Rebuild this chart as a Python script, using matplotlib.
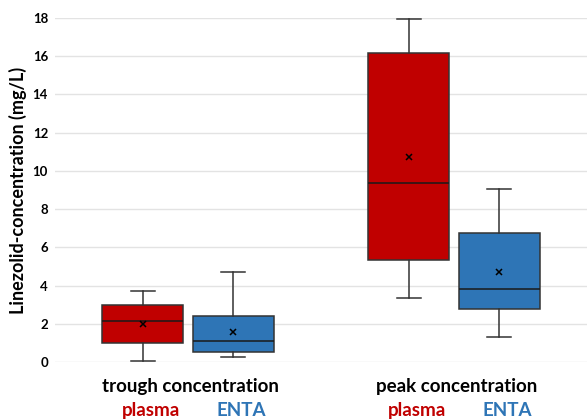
import matplotlib
matplotlib.use("Agg")
import matplotlib.pyplot as plt
from matplotlib.transforms import blended_transform_factory

plt.rcParams['font.family'] = ['Lato', 'DejaVu Sans']

groups = ["trough concentration", "peak concentration"]
series = ["plasma", "ENTA"]
colors = ["#C00000", "#2E75B6"]

# per group: [plasma, ENTA]
whislo = [[0.05, 0.27], [3.35, 1.31]]
q1 = [[0.99, 0.52], [5.34, 2.77]]
med = [[2.15, 1.10], [9.37, 3.82]]
q3 = [[2.98, 2.41], [16.17, 6.75]]
whishi = [[3.72, 4.70], [17.95, 9.05]]
means = [[2.00, 1.57], [10.73, 4.71]]

fig = plt.figure(figsize=(5.87, 4.19), dpi=100)
ax = fig.add_axes([55 / 587, 57 / 419, 532 / 587, 344 / 419])

offsets = [-0.17, 0.17]
for g in range(len(groups)):
    for s in range(len(series)):
        stats = [{
            "whislo": whislo[g][s], "q1": q1[g][s], "med": med[g][s],
            "q3": q3[g][s], "whishi": whishi[g][s], "mean": means[g][s],
            "fliers": [],
        }]
        pos = g + 0.5 + offsets[s]
        ax.bxp(stats, positions=[pos], widths=0.305, patch_artist=True,
               showmeans=True, manage_ticks=False,
               boxprops=dict(facecolor=colors[s], edgecolor="#333333", linewidth=1.1),
               medianprops=dict(color="#1a1a1a", linewidth=1.1),
               whiskerprops=dict(color="#333333", linewidth=1.1),
               capprops=dict(color="#333333", linewidth=1.1),
               capwidths=0.09,
               meanprops=dict(marker="x", markeredgecolor="black", markersize=4,
                              markeredgewidth=1.1))

ax.set_xlim(0, 2)
ax.set_ylim(0, 18)
ax.set_yticks(range(0, 19, 2))
ax.set_yticklabels([str(v) for v in range(0, 19, 2)], fontweight="bold", fontsize=9.5)
ax.set_xticks([])
ax.grid(axis="y", color="#e3e3e3", linewidth=1)
ax.set_axisbelow(True)
for sp in ax.spines.values():
    sp.set_visible(False)
ax.tick_params(axis="y", length=0, pad=5)
ax.set_ylabel("Linezolid-concentration (mg/L)", fontsize=13, fontweight="bold", labelpad=4)

trans = blended_transform_factory(ax.transData, fig.transFigure)
for g, name in enumerate(groups):
    ax.text(g + 0.5 + 0.01, 1 - 386 / 419, name, transform=trans, ha="center", va="center",
            fontsize=13.5, fontweight="bold", color="black")
    ax.text(g + 0.5 - 0.14, 1 - 410 / 419, series[0], transform=trans, ha="center", va="center",
            fontsize=13.5, fontweight="bold", color=colors[0])
    ax.text(g + 0.5 + 0.2, 1 - 410 / 419, series[1], transform=trans, ha="center", va="center",
            fontsize=13.5, fontweight="bold", color=colors[1])

fig.savefig("out.png", dpi=100)
